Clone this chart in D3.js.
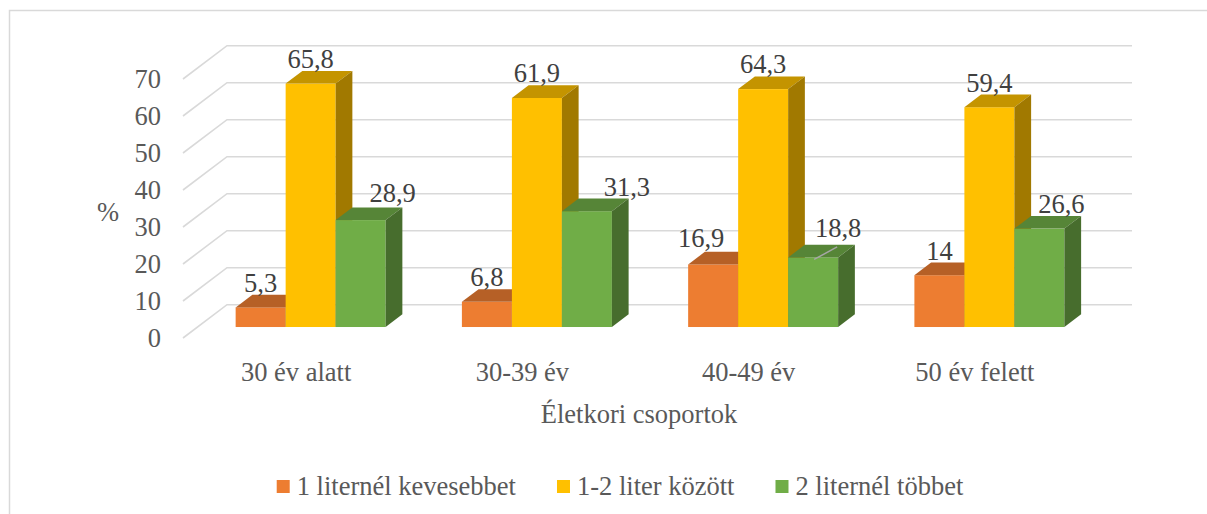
<!DOCTYPE html>
<html>
<head>
<meta charset="utf-8">
<script src="https://cdn.jsdelivr.net/npm/d3@7"></script>
</head>
<body style="margin:0">
<svg id="chart" width="1207" height="514"></svg>
<script>
// ---- data ----
const categories = ["30 év alatt", "30-39 év", "40-49 év", "50 év felett"];
const seriesNames = ["1 liternél kevesebbet", "1-2 liter között", "2 liternél többet"];
const lessThan1 = [5.3, 6.8, 16.9, 14];
const between1and2 = [65.8, 61.9, 64.3, 59.4];
const moreThan2 = [28.9, 31.3, 18.8, 26.6];
const yTicks = [0, 10, 20, 30, 40, 50, 60, 70];
const xTitle = "Életkori csoportok";
const yTitle = "%";

const seriesValues = [lessThan1, between1and2, moreThan2];
const colors = ["#ED7D31", "#FFC000", "#70AD47"];

// ---- layout ----
const svg = d3.select("#chart");
const FONT = 26.5;
const DX = 44, DY = 33.3;          // floor depth vector
const Z0 = 0.33, Z1 = 0.71;        // bar depth span
const fmt = v => String(v).replace(".", ",");
const txt = sel => sel.attr("font-size", FONT).attr("font-family", "Liberation Serif")
  .style("font-family", '"Liberation Serif"');

const y = d3.scaleLinear().domain([0, 70]).range([338, 79]);
const x = d3.scaleBand().domain(categories).range([183, 1088])
  .paddingInner(0.337).paddingOuter(0.1685);
const xs = d3.scaleBand().domain(d3.range(seriesNames.length)).range([0, x.bandwidth()]);
const P = (xf, v, z) => [xf + z * DX, y(v) - z * DY];

// border
svg.append("rect").attr("x", 9.5).attr("y", 10.5).attr("width", 1220).attr("height", 520)
  .attr("fill", "none").attr("stroke", "#D9D9D9").attr("stroke-width", 1.5);

// gridlines: diagonal on side (front->back), then along back wall
const xL = x.range()[0], xR = x.range()[1];
const grid = svg.append("g").attr("fill", "none").attr("stroke", "#D9D9D9").attr("stroke-width", 1.6);
yTicks.forEach(t => {
  const a = P(xL, t, 0), b = P(xL, t, 1), c = P(xR, t, 1);
  grid.append("path").attr("d", d3.line()([a, b, c]));
});

// y-axis labels
svg.append("g").selectAll("text").data(yTicks).join("text")
  .attr("x", 161).attr("y", d => y(d)).attr("dy", "0.35em")
  .attr("text-anchor", "end").attr("fill", "#595959")
  .call(txt).text(d => d);

svg.append("text").attr("x", 108).attr("y", 212).attr("dy", "0.35em")
  .attr("text-anchor", "middle").attr("fill", "#595959").call(txt).text(yTitle);

// bars
const shade = (c, k) => { const r = d3.rgb(c); return d3.rgb(r.r * k, r.g * k, r.b * k).toString(); };
const bars = svg.append("g");
categories.forEach((cat, ci) => {
  seriesValues.forEach((vals, si) => {
    const v = vals[ci];
    const x0 = x(cat) + xs(si), x1 = x0 + xs.bandwidth();
    const g = bars.append("g");
    const fA = P(x0, v, Z0), fB = P(x1, 0, Z0);
    g.append("rect").attr("x", fA[0]).attr("y", fA[1])
      .attr("width", fB[0] - fA[0]).attr("height", fB[1] - fA[1]).attr("fill", colors[si]);
    g.append("path").attr("d", d3.line()([P(x0, v, Z0), P(x1, v, Z0), P(x1, v, Z1), P(x0, v, Z1)]) + "Z")
      .attr("fill", shade(colors[si], 0.77));
    g.append("path").attr("d", d3.line()([P(x1, 0, Z0), P(x1, v, Z0), P(x1, v, Z1), P(x1, 0, Z1)]) + "Z")
      .attr("fill", shade(colors[si], 0.63));
  });
});

// data labels (with manual nudges like the original)
const labelNudgeX = [[0, 0, -12, 0], [0, 0, 0, 0], [32, 40, 25, 22]];
const labelNudgeY = [[0, 0, -2, 0], [0, 0, 0, 0], [-2.7, 0, -5, 0]];
const labels = svg.append("g");
categories.forEach((cat, ci) => {
  seriesValues.forEach((vals, si) => {
    const v = vals[ci];
    const cx = P(x(cat) + xs(si) + xs.bandwidth() / 2, v, Z0);
    const lx = cx[0] + labelNudgeX[si][ci];
    const ly = cx[1] - 15.7 + labelNudgeY[si][ci];
    labels.append("text").attr("x", lx).attr("y", ly)
      .attr("text-anchor", "middle").attr("fill", "#404040").call(txt).text(fmt(v));
    if (si === 2 && ci === 2) {
      labels.append("line")
        .attr("x1", cx[0] + 1).attr("y1", cx[1] + 2)
        .attr("x2", cx[0] + 24).attr("y2", cx[1] - 10.5)
        .attr("stroke", "#A6A6A6").attr("stroke-width", 1.5);
    }
  });
});

// category labels (front edge of the floor)
svg.append("g").selectAll("text").data(categories).join("text")
  .attr("x", d => x(d) + x.bandwidth() / 2)
  .attr("y", 381).attr("text-anchor", "middle").attr("fill", "#595959")
  .call(txt).text(d => d);

svg.append("text").attr("x", 639).attr("y", 423).attr("text-anchor", "middle")
  .attr("fill", "#595959").call(txt).text(xTitle);

// legend
const legend = svg.append("g");
const items = seriesNames.map((name, i) => {
  const g = legend.append("g");
  g.append("rect").attr("x", 0).attr("y", -15).attr("width", 13).attr("height", 13).attr("fill", colors[i]);
  const t = g.append("text").attr("x", 20).attr("y", 0).attr("fill", "#595959").call(txt).text(name);
  return { g, w: 20 + t.node().getComputedTextLength() };
});
const gap = 41;
const total = d3.sum(items, d => d.w) + gap * (items.length - 1);
let lx0 = 620 - total / 2;
items.forEach(it => { it.g.attr("transform", `translate(${lx0},495)`); lx0 += it.w + gap; });
</script>
</body>
</html>
